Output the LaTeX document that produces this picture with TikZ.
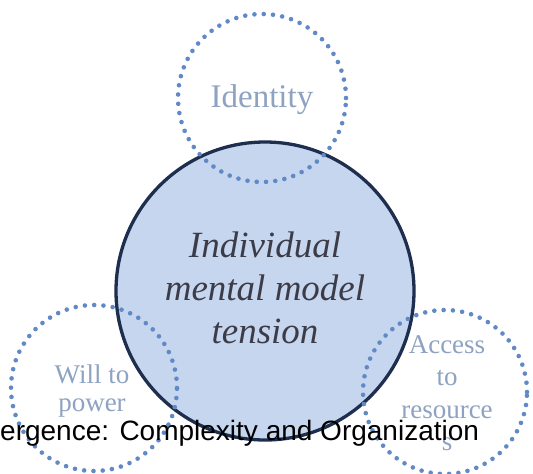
\documentclass[tikz,border=0pt]{standalone}
\usepackage{fontspec}
\setmainfont{Liberation Serif}
\newfontfamily\capfont{Liberation Sans}
\definecolor{mainfill}{HTML}{C6D6EE}
\definecolor{mainline}{HTML}{1E2E4F}
\definecolor{dotblue}{HTML}{6089C6}
\definecolor{lbltext}{HTML}{8EA2C2}
\definecolor{maintext}{HTML}{3C3C48}
\tikzset{
  mainc/.style={circle, fill=mainfill, draw=mainline, line width=3.3pt, inner sep=0pt},
  dotc/.style={circle, draw=dotblue, line width=4.6pt, line cap=round, dash pattern=on 0pt off 9.3pt, inner sep=0pt},
  lbl/.style={text=lbltext, font=\fontsize{27}{32}\selectfont, anchor=base, inner sep=0pt},
  idlbl/.style={text=lbltext, font=\fontsize{33}{38}\selectfont, anchor=base, inner sep=0pt},
  mainlbl/.style={text=maintext, font=\itshape\fontsize{37}{43}\selectfont, anchor=base, inner sep=0pt},
  caplbl/.style={text=black, font=\capfont\fontsize{28}{28}\selectfont, anchor=base west, inner sep=0pt}
}
\begin{document}
\begin{tikzpicture}[x=1pt,y=-1pt]
\useasboundingbox (0,0) rectangle (533,474);
\fill[white] (0,0) rectangle (533,474);
\node[mainc, minimum size=298pt] (center) at (265,291) {};
\node[dotc, minimum size=168pt] (identity) at (262,98) {};
\node[dotc, minimum size=166pt] (will) at (94,388) {};
\node[dotc, minimum size=164pt] (access) at (445,392) {};
\node[idlbl] (idtext) at (262,107) {Identity};
\node[lbl] (will1) at (92,383) {Will to};
\node[lbl] (will2) at (92,411) {power};
\node[lbl] (acc1) at (447,353) {Access};
\node[lbl] (acc2) at (447,385) {to};
\node[lbl] (acc3) at (447,418) {resource};
\node[lbl] (acc4) at (447,450) {s};
\node[mainlbl] (m1) at (265,257) {Individual};
\node[mainlbl] (m2) at (265,300) {mental model};
\node[mainlbl] (m3) at (265,343) {tension};
\node[caplbl] (caption) at (0,440) {ergence: Complexity and Organization};
\end{tikzpicture}
\end{document}
